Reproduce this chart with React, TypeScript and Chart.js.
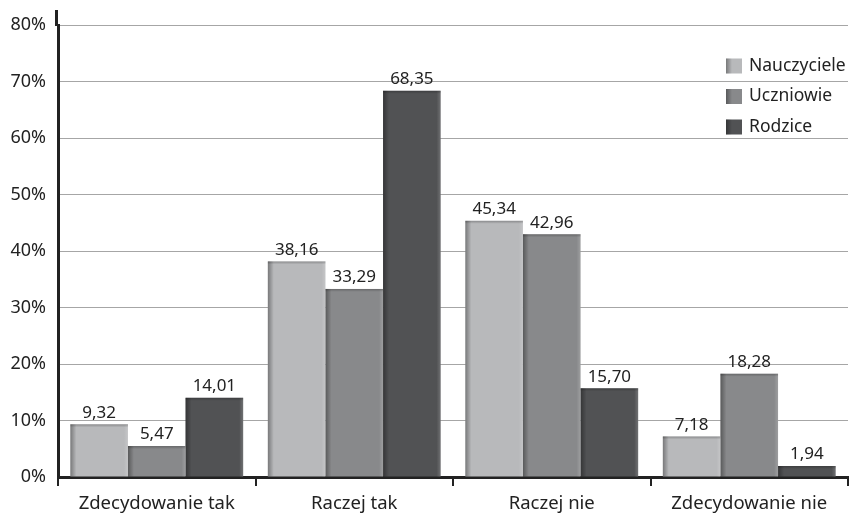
import React, { useEffect, useRef } from "react";
import { Chart, registerables } from "chart.js";

Chart.register(...registerables);

const categories = ["Zdecydowanie tak", "Raczej tak", "Raczej nie", "Zdecydowanie nie"];
const seriesNames = ["Nauczyciele", "Uczniowie", "Rodzice"];
const nauczyciele = [9.32, 38.16, 45.34, 7.18];
const uczniowie = [5.47, 33.29, 42.96, 18.28];
const rodzice = [14.01, 68.35, 15.7, 1.94];
const yTicks = [0, 10, 20, 30, 40, 50, 60, 70, 80];
const colors = ["#b8b9bb", "#88898b", "#515254"];

const FONT = "'Noto Sans', 'DejaVu Sans', sans-serif";

const bevelPlugin = {
  id: "bevel",
  afterDatasetsDraw(chart: any) {
    const ctx = chart.ctx;
    chart.data.datasets.forEach((_: any, di: number) => {
      const meta = chart.getDatasetMeta(di);
      meta.data.forEach((bar: any) => {
        const left = bar.x - bar.width / 2;
        const right = bar.x + bar.width / 2;
        const top = bar.y;
        const bottom = bar.base;
        ctx.save();
        const g = ctx.createLinearGradient(left, 0, left + 6, 0);
        g.addColorStop(0, "rgba(0,0,0,0.35)");
        g.addColorStop(1, "rgba(0,0,0,0)");
        ctx.fillStyle = g;
        ctx.fillRect(left, top, 6, bottom - top);
        const g2 = ctx.createLinearGradient(right - 4, 0, right, 0);
        g2.addColorStop(0, "rgba(255,255,255,0)");
        g2.addColorStop(1, "rgba(255,255,255,0.18)");
        ctx.fillStyle = g2;
        ctx.fillRect(right - 4, top, 4, bottom - top);
        const g3 = ctx.createLinearGradient(0, top, 0, top + 3);
        g3.addColorStop(0, "rgba(0,0,0,0.25)");
        g3.addColorStop(1, "rgba(0,0,0,0)");
        ctx.fillStyle = g3;
        ctx.fillRect(left, top, right - left, Math.min(3, bottom - top));
        ctx.restore();
      });
    });
  },
};

const labelPlugin = {
  id: "valueLabels",
  afterDatasetsDraw(chart: any) {
    const ctx = chart.ctx;
    ctx.save();
    ctx.font = `17px ${FONT}`;
    ctx.fillStyle = "#222";
    ctx.textAlign = "center";
    ctx.textBaseline = "bottom";
    chart.data.datasets.forEach((ds: any, di: number) => {
      const meta = chart.getDatasetMeta(di);
      meta.data.forEach((bar: any, i: number) => {
        const v = ds.data[i] as number;
        ctx.fillText(v.toFixed(2).replace(".", ","), bar.x, bar.y - 3);
      });
    });
    ctx.restore();
  },
};

const axisExtPlugin = {
  id: "axisExt",
  afterDraw(chart: any) {
    const ctx = chart.ctx;
    const { left, top } = chart.chartArea;
    ctx.save();
    ctx.strokeStyle = "#222";
    ctx.lineWidth = 3;
    ctx.beginPath();
    ctx.moveTo(left - 1.5, top - 15);
    ctx.lineTo(left - 1.5, top + 1);
    ctx.stroke();
    ctx.restore();
  },
};

const legendPlugin = {
  id: "customLegend",
  afterDraw(chart: any) {
    const ctx = chart.ctx;
    ctx.save();
    ctx.font = `17.5px ${FONT}`;
    ctx.textBaseline = "middle";
    ctx.textAlign = "left";
    const x0 = 726;
    const y0 = 66;
    const gap = 30.5;
    chart.data.datasets.forEach((ds: any, i: number) => {
      const cy = y0 + i * gap;
      ctx.fillStyle = ds.backgroundColor;
      ctx.fillRect(x0, cy - 7.5, 16, 15);
      const g = ctx.createLinearGradient(x0, 0, x0 + 6, 0);
      g.addColorStop(0, "rgba(0,0,0,0.35)");
      g.addColorStop(1, "rgba(0,0,0,0)");
      ctx.fillStyle = g;
      ctx.fillRect(x0, cy - 7.5, 6, 15);
      ctx.fillStyle = "#222";
      ctx.fillText(ds.label, x0 + 23, cy);
    });
    ctx.restore();
  },
};

export default function App() {
  const ref = useRef<HTMLCanvasElement>(null);
  useEffect(() => {
    document.body.style.margin = "0";
    const chart = new Chart(ref.current!, {
      type: "bar",
      data: {
        labels: categories,
        datasets: [nauczyciele, uczniowie, rodzice].map((d, i) => ({
          label: seriesNames[i],
          data: d,
          backgroundColor: colors[i],
          borderWidth: 0,
          categoryPercentage: 0.875,
          barPercentage: 1,
        })),
      },
      options: {
        animation: false,
        responsive: false,
        devicePixelRatio: 1,
        layout: { padding: { top: 25, right: 2, left: 0, bottom: 0 } },
        plugins: {
          legend: { display: false },
          tooltip: { enabled: false },
        },
        scales: {
          x: {
            grid: {
              offset: true,
              drawOnChartArea: false,
              color: "#222",
              lineWidth: 2,
              tickLength: 9,
            },
            border: { color: "#222", width: 3 },
            ticks: {
              color: "#222",
              font: { family: FONT, size: 18.5 },
              padding: 7,
            },
            afterFit(scale: any) {
              scale.height = 37;
            },
          },
          y: {
            min: 0,
            max: 80,
            afterBuildTicks(scale: any) {
              scale.ticks = yTicks.map((v) => ({ value: v }));
            },
            grid: {
              color: (c: any) => (c.tick && c.tick.value === 0 ? "rgba(0,0,0,0)" : "#a6a6a6"),
              lineWidth: 1,
              drawTicks: false,
            },
            border: { color: "#222", width: 3 },
            ticks: {
              color: "#222",
              font: { family: FONT, size: 18 },
              padding: 12,
              callback: (v: any) => `${v}%`,
            },
            afterFit(scale: any) {
              scale.width = 58;
            },
          },
        },
      },
      plugins: [bevelPlugin, labelPlugin, axisExtPlugin, legendPlugin],
    });
    return () => chart.destroy();
  }, []);
  return (
    <div style={{ width: 850, height: 514 }}>
      <canvas ref={ref} width={850} height={514} style={{ display: "block" }} />
    </div>
  );
}
